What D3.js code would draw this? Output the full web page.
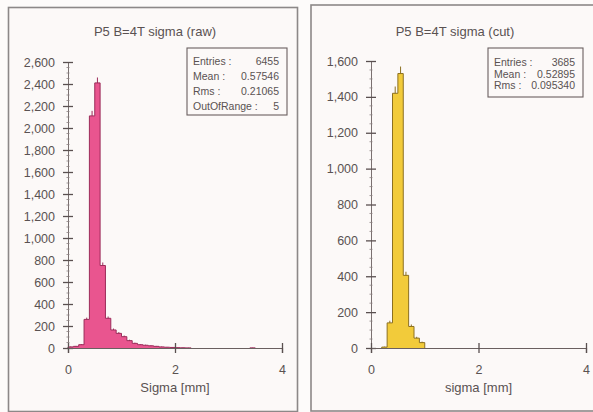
<!DOCTYPE html>
<html>
<head>
<meta charset="utf-8">
<script src="https://cdn.jsdelivr.net/npm/d3@7"></script>
<style>
  html, body { margin: 0; padding: 0; background: #fdfbfa; }
  svg { display: block; }
  text { font-family: "Liberation Sans", Arial, sans-serif; fill: #5a5252; }
</style>
</head>
<body>
<svg id="chart" width="593" height="412"></svg>
<script>
// Histogram bins are 0.1 mm wide; each array lists bin counts starting at 0 mm.
const binWidth = 0.1;

// Raw sigma distribution (bins 0.0 .. 3.5)
const rawCounts = [10, 15, 30, 260, 2110, 2410, 750, 270, 164, 133, 103, 67, 42, 30, 25, 20, 15, 10, 7, 5, 3, 2, 1, 0,
                   0, 0, 0, 0, 0, 0, 0, 0, 0, 0, 1];
// Sigma after cuts (bins 0.0 .. 1.0)
const cutCounts = [0, 0, 5, 140, 1420, 1530, 405, 120, 55, 30];

const rawYTicks = [0, 200, 400, 600, 800, 1000, 1200, 1400, 1600, 1800, 2000, 2200, 2400, 2600];
const cutYTicks = [0, 200, 400, 600, 800, 1000, 1200, 1400, 1600];
const xTicks = [0, 2, 4];

const rawStats = [["Entries :", "6455"], ["Mean : ", "0.57546"], ["Rms :", "0.21065"], ["OutOfRange :", "5"]];
const cutStats = [["Entries :", "3685"], ["Mean : ", "0.52895"], ["Rms :", "0.095340"]];

const svg = d3.select("#chart");
const fmt = d3.format(",");

// split non-empty bins into contiguous runs
function runsOf(counts) {
  const runs = [];
  let cur = null;
  counts.forEach((n, i) => {
    if (n > 0) {
      if (!cur) { cur = []; runs.push(cur); }
      cur.push({ x0: i * binWidth, x1: (i + 1) * binWidth, n });
    } else cur = null;
  });
  return runs;
}

function panel(cfg) {
  const g = svg.append("g");
  // frame
  g.append("rect")
    .attr("x", cfg.frame[0]).attr("y", cfg.frame[1])
    .attr("width", cfg.frame[2]).attr("height", cfg.frame[3])
    .attr("fill", "#fcf9f8").attr("stroke", "#8c8888").attr("stroke-width", 1.6);

  const x = d3.scaleLinear().domain([0, 4]).range(cfg.xr);
  const y = d3.scaleLinear().domain([0, cfg.ymax]).range(cfg.yr);

  // title
  g.append("text").attr("x", cfg.titleX).attr("y", 36)
    .attr("text-anchor", "middle").style("font-size", "13px").text(cfg.title);

  const runs = runsOf(cfg.counts);
  const bins = runs.flat();

  // statistical error bars at bin centres (lower half hidden under the fill)
  g.append("g").selectAll("line").data(bins).join("line")
    .attr("x1", d => x((d.x0 + d.x1) / 2)).attr("x2", d => x((d.x0 + d.x1) / 2))
    .attr("y1", d => y(d.n + Math.sqrt(d.n))).attr("y2", d => y(Math.max(0, d.n - Math.sqrt(d.n))))
    .attr("stroke", cfg.edge).attr("stroke-width", 1);

  const area = d3.area().curve(d3.curveStepAfter)
    .x(p => x(p[0])).y0(y(0)).y1(p => y(p[1]));
  const line = d3.line().curve(d3.curveStepAfter)
    .x(p => x(p[0])).y(p => y(p[1]));

  runs.forEach(run => {
    const last = run[run.length - 1];
    const pts = run.map(d => [d.x0, d.n]).concat([[last.x1, last.n]]);
    g.append("path").attr("d", area(pts)).attr("fill", cfg.fill);
    const outline = [[run[0].x0, 0]].concat(pts, [[last.x1, 0]]);
    g.append("path").attr("d", line(outline))
      .attr("fill", "none").attr("stroke", cfg.edge).attr("stroke-width", 1);
  });

  // y axis
  const ya = g.append("g").attr("transform", `translate(${cfg.xr[0]},0)`)
    .call(d3.axisLeft(y).tickValues(cfg.yTicks).tickFormat(fmt).tickSizeOuter(0).tickSize(5).tickPadding(8));
  ya.select(".domain").attr("stroke", "#7a7070");
  ya.selectAll(".tick line").attr("x1", -5).attr("x2", 5).attr("stroke", "#5a5050").attr("stroke-width", 1.3);
  ya.selectAll(".tick text").style("font-size", "12.5px").attr("fill", "#665c5c")
    .style("font-family", "'Liberation Sans', Arial, sans-serif");
  // minor ticks
  const minor = d3.range(0, cfg.ymax + 1, cfg.minorStep).filter(v => !cfg.yTicks.includes(v));
  ya.selectAll(".minor").data(minor).join("line").attr("class", "minor")
    .attr("x1", -1.5).attr("x2", 1.5).attr("y1", d => y(d)).attr("y2", d => y(d))
    .attr("stroke", "#8a8080").attr("stroke-width", 0.8);

  // x axis
  const xa = g.append("g").attr("transform", `translate(0,${cfg.yr[0]})`)
    .call(d3.axisBottom(x).tickValues(xTicks).tickFormat(d3.format("d")).tickSizeOuter(0).tickSize(5).tickPadding(12));
  xa.select(".domain").attr("stroke", "#6a6060").attr("stroke-width", 1.2);
  xa.selectAll(".tick line").attr("y1", -5).attr("y2", 5).attr("stroke", "#5a5050").attr("stroke-width", 1.3);
  xa.selectAll(".tick text").style("font-size", "12.5px").attr("fill", "#665c5c")
    .style("font-family", "'Liberation Sans', Arial, sans-serif");

  // axis title
  g.append("text").attr("x", (cfg.xr[0] + cfg.xr[1]) / 2).attr("y", 392)
    .attr("text-anchor", "middle").style("font-size", "13px").text(cfg.xlabel);

  // statistics box
  const b = cfg.box;
  g.append("rect").attr("x", b[0]).attr("y", b[1]).attr("width", b[2]).attr("height", b[3])
    .attr("fill", "none").attr("stroke", "#6a6060").attr("stroke-width", 1.1);
  cfg.stats.forEach((s, i) => {
    const ty = b[1] + cfg.statTop + i * cfg.statGap;
    g.append("text").attr("x", b[0] + 6).attr("y", ty).style("font-size", "10.5px").text(s[0]);
    g.append("text").attr("x", b[0] + b[2] - 8).attr("y", ty).attr("text-anchor", "end")
      .style("font-size", "10.5px").text(s[1]);
  });
}

panel({
  frame: [8.5, 7.5, 289, 404], xr: [68, 282], yr: [348, 62], ymax: 2600, minorStep: 50,
  title: "P5 B=4T sigma (raw)", titleX: 155, counts: rawCounts, yTicks: rawYTicks,
  fill: "#e9558f", edge: "#9c2c5a", xlabel: "Sigma [mm]",
  box: [187, 48, 100, 67], stats: rawStats, statTop: 16.5, statGap: 15
});

panel({
  frame: [311, 5, 290, 406], xr: [371, 586], yr: [348, 61], ymax: 1600, minorStep: 50,
  title: "P5 B=4T sigma (cut)", titleX: 455, counts: cutCounts, yTicks: cutYTicks,
  fill: "#f2cb3a", edge: "#8c7020", xlabel: "sigma [mm]",
  box: [488, 48, 95, 49], stats: cutStats, statTop: 18, statGap: 11.7
});
</script>
</body>
</html>
